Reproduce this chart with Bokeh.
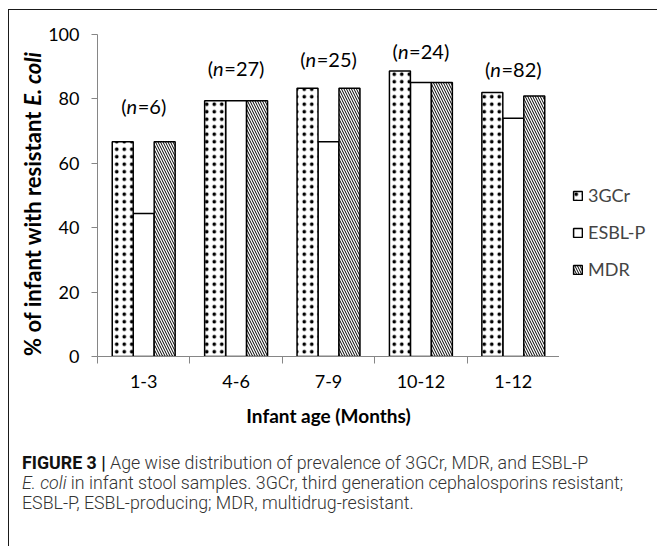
import math
import numpy as np
from bokeh.plotting import figure
from bokeh.layouts import row, column
from bokeh.models import FixedTicker, Legend, LegendItem, ColumnDataSource, Div
from bokeh.core.properties import value
from bokeh.embed import file_html
from bokeh.resources import INLINE

# ---- data ----
categories = ["1-3", "4-6", "7-9", "10-12", "1-12"]
series = ["3GCr", "ESBL-P", "MDR"]
gcr = [66.7, 79.4, 83.3, 88.7, 82.0]
esbl = [44.4, 79.4, 66.7, 85.1, 74.0]
mdr = [66.7, 79.4, 83.3, 85.1, 80.9]
n_counts = [6, 27, 25, 24, 82]
n_label_y = [77.8, 89.7, 92.3, 94.9, 89.2]
y_ticks = [0, 20, 40, 60, 80, 100]

FONT = "Lato"
AX = "#868686"
H = 422

STY = {
    "3GCr": dict(fill_color="white", line_color="black", line_width=1.5,
                 hatch_pattern="dot", hatch_color="black", hatch_scale=7.5, hatch_weight=1.1),
    "ESBL-P": dict(fill_color="white", line_color="black", line_width=1.5),
    "MDR": dict(fill_color="white", line_color="black", line_width=1.5,
                hatch_pattern="left_diagonal_line", hatch_color="black",
                hatch_scale=5, hatch_weight=1.0),
}

centers = np.arange(len(categories)) + 0.5
w = 0.227
series_vals = {"3GCr": (gcr, -w), "ESBL-P": (esbl, 0.0), "MDR": (mdr, w)}

# ---------------- main chart ----------------
p = figure(width=514, height=H, x_range=(0, 5), y_range=(0, 100),
           output_backend="svg", toolbar_location=None,
           min_border_left=51, min_border_right=0,
           min_border_top=24, min_border_bottom=76)
p.outline_line_color = None
p.grid.visible = False

for s in ["ESBL-P", "3GCr", "MDR"]:
    vals, off = series_vals[s]
    p.vbar(x=centers + off, top=vals, width=w, **STY[s])

# n labels: "(" + italic "n" + "=NN)"
fs = 20
wp, wn, wd = 0.29 * fs, 0.56 * fs, 0.58 * fs
rests = ["=%d)" % v for v in n_counts]
tot = [wp + wn + wd * (len(r) - 1) + wp for r in rests]
a = [-t / 2 + wp for t in tot]
nsrc = ColumnDataSource(dict(x=centers, y=n_label_y, a=a, b=[v + wn for v in a],
                             o=["("] * len(categories), n=["n"] * len(categories), r=rests))
common = dict(source=nsrc, text_font=value(FONT), text_font_size=value("%dpx" % fs),
              text_baseline="middle", text_color="black")
p.text(x="x", y="y", text="o", x_offset="a", text_align="right", **common)
p.text(x="x", y="y", text="n", x_offset="a", text_align="left", text_font_style="italic", **common)
p.text(x="x", y="y", text="r", x_offset="b", text_align="left", **common)

# axes
p.yaxis.ticker = FixedTicker(ticks=y_ticks)
p.yaxis.axis_line_color = AX
p.yaxis.major_tick_line_color = AX
p.yaxis.major_tick_out = 6
p.yaxis.major_tick_in = 0
p.yaxis.minor_tick_line_color = None
p.yaxis.major_label_standoff = 12
p.yaxis.major_label_text_font = FONT
p.yaxis.major_label_text_font_size = "18px"
p.yaxis.major_label_text_color = "black"

p.xaxis.ticker = FixedTicker(ticks=list(centers), minor_ticks=list(range(len(categories) + 1)))
p.xaxis.major_label_overrides = {float(c): lab for c, lab in zip(centers, categories)}
p.xaxis.axis_line_color = AX
p.xaxis.major_tick_line_color = None
p.xaxis.major_tick_out = 7
p.xaxis.major_tick_in = 0
p.xaxis.minor_tick_line_color = AX
p.xaxis.minor_tick_out = 7
p.xaxis.minor_tick_in = 0
p.xaxis.major_label_standoff = 11
p.xaxis.major_label_text_font = FONT
p.xaxis.major_label_text_font_size = "18px"
p.xaxis.major_label_text_color = "black"
p.xaxis.axis_label = "Infant age (Months)"
p.xaxis.axis_label_standoff = 13
p.xaxis.axis_label_text_font = FONT
p.xaxis.axis_label_text_font_style = "bold"
p.xaxis.axis_label_text_font_size = "19px"
p.xaxis.axis_label_text_color = "black"

# ---------------- legend panel ----------------
lg = figure(width=95, height=H, x_range=(0, 1), y_range=(0, 1),
            output_backend="svg", toolbar_location=None, min_border=0)
lg.outline_line_color = None
lg.grid.visible = False
lg.axis.visible = False
items = []
for s in series:
    vals, off = series_vals[s]
    r = lg.vbar(x=centers + off, top=vals, width=w, visible=False, **STY[s])
    items.append(LegendItem(label=s, renderers=[r]))
legend = Legend(items=items, location=(13, 76))
legend.glyph_width = 11
legend.glyph_height = 11
legend.label_height = 20
legend.spacing = 15
legend.padding = 0
legend.margin = 0
legend.label_standoff = 5
legend.border_line_color = None
legend.background_fill_alpha = 0
legend.label_text_font = FONT
legend.label_text_font_size = "18px"
legend.label_text_baseline = "middle"
lg.add_layout(legend)

# ---------------- y-axis title (own narrow panel) ----------------
yl = figure(width=36, height=H, x_range=(0, 1), y_range=(0, 1),
            output_backend="svg", toolbar_location=None, min_border=0)
yl.outline_line_color = None
yl.grid.visible = False
yl.axis.visible = False
split_y = (H - 100) / H
yl.text(x=[0.63], y=[split_y], text=["% of infant with resistant"], angle=math.pi / 2,
        text_align="right", text_baseline="middle", text_font=value(FONT),
        text_font_style="bold", text_font_size=value("22px"), text_color="black")
yl.text(x=[0.63], y=[split_y], text=["E. coli"], angle=math.pi / 2, y_offset=-5,
        text_align="left", text_baseline="middle", text_font=value(FONT),
        text_font_style="bold italic", text_font_size=value("22px"), text_color="black")

# ---------------- caption ----------------
cap_html = (
    '<b style="color:#111;font-weight:700">FIGURE 3 |</b> Age wise distribution of prevalence of 3GCr, MDR, and ESBL-P<br>'
    '<i>E. coli</i> in infant stool samples. 3GCr, third generation cephalosporins resistant;<br>'
    'ESBL-P, ESBL-producing; MDR, multidrug-resistant.'
)
cap = Div(text=cap_html, width=645, height=110,
          styles={"font-family": "Roboto, 'Liberation Sans', sans-serif", "font-size": "17.8px",
                  "font-weight": "300", "line-height": "20px", "color": "#333333",
                  "white-space": "nowrap", "padding-left": "8px", "padding-top": "16px"})

layout = column(row(yl, p, lg), cap,
                styles={"border-top": "1px solid #1a1a1a", "border-left": "1px solid #1a1a1a",
                        "margin-left": "8px", "margin-top": "9px"})

open("out.html", "w").write(file_html(layout, INLINE))
